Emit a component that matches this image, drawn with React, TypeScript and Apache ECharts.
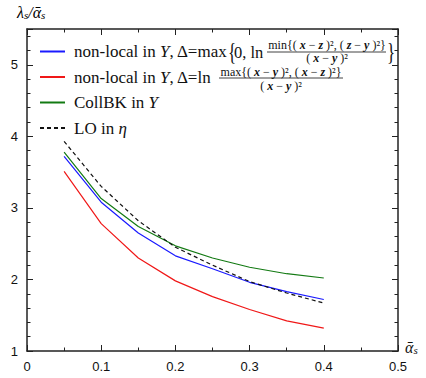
import React, { useEffect, useRef } from "react";
import * as echarts from "echarts";

const alphaValues = [0.05, 0.1, 0.15, 0.2, 0.25, 0.3, 0.35, 0.4];
const nonLocalMax = [3.72, 3.08, 2.65, 2.33, 2.15, 1.96, 1.83, 1.72];
const nonLocalLn = [3.51, 2.78, 2.3, 1.98, 1.76, 1.58, 1.42, 1.32];
const collBK = [3.78, 3.13, 2.74, 2.47, 2.3, 2.17, 2.08, 2.02];
const loEta = [3.93, 3.3, 2.82, 2.45, 2.2, 1.97, 1.81, 1.67];

const seriesNames = [
  "non-local in Y, Δ=max{0, ln min{(x−z)²,(z−y)²}/(x−y)²}",
  "non-local in Y, Δ=ln max{(x−y)²,(x−z)²}/(x−y)²",
  "CollBK in Y",
  "LO in η",
];
const legendLabels = [
  "{t|non-local in }{i|Y}{t|, Δ=max}",
  "{t|non-local in }{i|Y}{t|, Δ=ln}",
  "{t|CollBK in }{i|Y}",
  "{t|LO in }{i|η}",
];

const SERIF = "Liberation Serif";
const SANS = "Liberation Sans";

const pair = (xs: number[], ys: number[]) => xs.map((x, i) => [x, ys[i]]);

export default function App() {
  const ref = useRef<HTMLDivElement>(null);
  useEffect(() => {
    if (!ref.current) return;
    const chart = echarts.init(ref.current, undefined, { renderer: "svg" });

    const axisCommon = {
      type: "value",
      splitLine: { show: false },
      axisLine: { show: true, onZero: false, lineStyle: { color: "#222", width: 1.5 } },
      axisTick: { show: true, inside: true, length: 6, lineStyle: { color: "#222", width: 1 } },
      minorTick: { show: true, length: 3.5, lineStyle: { color: "#222", width: 1 } },
    };
    const fracRich = {
      b: { fontFamily: SERIF, fontSize: 12, fontStyle: "italic", fontWeight: "bold", color: "#111", lineHeight: 10 },
    };
    const fracText = (x: number, y: number, text: string) => ({
      type: "text",
      x,
      y,
      style: {
        text,
        x: 0,
        y: 0,
        align: "center",
        verticalAlign: "middle",
        fontFamily: SERIF,
        fontSize: 12,
        lineHeight: 10,
        fill: "#111",
        rich: fracRich,
      },
    });
    const plain = (x: number, y: number, text: string, size = 17, scaleY = 1) => ({
      type: "text",
      x,
      y,
      scaleY,
      style: {
        text,
        x: 0,
        y: 0,
        align: "left",
        verticalAlign: "middle",
        fontFamily: SERIF,
        fontSize: size,
        fill: "#111",
      },
    });
    const bar = (x1: number, x2: number, y: number) => ({
      type: "line",
      shape: { x1, y1: y, x2, y2: y },
      style: { stroke: "#111", lineWidth: 0.8 },
    });
    const mk = (name: string, ys: number[], color: string, type: any = "solid") => ({
      name,
      type: "line",
      data: pair(alphaValues, ys),
      showSymbol: false,
      symbol: "none",
      color,
      lineStyle: { color, width: 1.2, type },
      itemStyle: { color },
    });
    const subRich = {
      a: { fontFamily: SERIF, fontSize: 16, fontStyle: "italic", color: "#111" },
      s: { fontFamily: SERIF, fontSize: 11, fontStyle: "italic", color: "#111", padding: [6, 0, 0, 0] },
    };
    chart.setOption({
      animation: false,
      grid: { left: 27, right: 28, top: 29, bottom: 27 },
      xAxis: [
        {
          ...axisCommon,
          min: 0,
          max: 0.5,
          interval: 0.1,
          position: "bottom",
          minorTick: { ...axisCommon.minorTick, splitNumber: 2 },
          axisLabel: {
            show: true,
            margin: 9,
            fontFamily: SANS,
            fontSize: 13,
            color: "#111",
            formatter: (v: number) => String(Math.round(v * 10) / 10),
          },
          name: "{a|ᾱ}{s|s}",
          nameLocation: "end",
          nameGap: 7,
          nameTextStyle: { padding: [0, 0, 8, 0], rich: subRich },
        },
        {
          ...axisCommon,
          min: 0,
          max: 0.5,
          interval: 0.1,
          position: "top",
          minorTick: { ...axisCommon.minorTick, splitNumber: 2 },
          axisLabel: { show: false },
        },
      ],
      yAxis: [
        {
          ...axisCommon,
          min: 1,
          max: 5.5,
          interval: 1,
          position: "left",
          minorTick: { ...axisCommon.minorTick, splitNumber: 5 },
          axisLabel: {
            show: true,
            margin: 9,
            fontFamily: SANS,
            fontSize: 13,
            color: "#111",
            showMaxLabel: false,
          },
        },
        {
          ...axisCommon,
          min: 1,
          max: 5.5,
          interval: 1,
          position: "right",
          minorTick: { ...axisCommon.minorTick, splitNumber: 5 },
          axisLabel: { show: false },
        },
      ],
      legend: {
        show: true,
        orient: "vertical",
        left: 39,
        top: 43,
        padding: 0,
        itemGap: 8.5,
        itemWidth: 25,
        itemHeight: 10,
        selectedMode: false,
        data: seriesNames,
        itemStyle: { opacity: 0 },
        formatter: (name: string) => legendLabels[seriesNames.indexOf(name)],
        textStyle: {
          fontFamily: SERIF,
          fontSize: 17,
          lineHeight: 17,
          color: "#111",
          padding: [0, 0, 0, 4],
          rich: {
            t: { fontFamily: SERIF, fontSize: 17, color: "#111", lineHeight: 17 },
            i: { fontFamily: SERIF, fontSize: 17, fontStyle: "italic", color: "#111", lineHeight: 17 },
          },
        },
      },
      graphic: [
        {
          type: "text",
          left: 17,
          top: 4,
          style: {
            text: "{a|λ}{s|s}{a|/}{a|ᾱ}{s|s}",
            rich: subRich,
          },
        },
        plain(228, 52, "{", 17, 1.45),
        plain(234, 52, "0, ln", 16.5),
        fracText(327, 44.5, "min{( {b|x} − {b|z} )², ( {b|z} − {b|y} )²}"),
        bar(267, 386, 52),
        fracText(327, 58, "( {b|x} − {b|y} )²"),
        plain(387, 52, "}", 17, 1.45),
        fracText(281, 72, "max{( {b|x} − {b|y} )², ( {b|x} − {b|z} )²}"),
        bar(219, 343, 78),
        fracText(281, 85.5, "( {b|x} − {b|y} )²"),
      ],
      series: [
        mk(seriesNames[0], nonLocalMax, "#1a1aff"),
        mk(seriesNames[1], nonLocalLn, "#f01818"),
        mk(seriesNames[2], collBK, "#137a13"),
        mk(seriesNames[3], loEta, "#111", [4, 3]),
      ],
    });
    return () => chart.dispose();
  }, []);
  return (
    <div
      ref={ref}
      style={{ position: "absolute", left: 0, top: 0, width: 426, height: 378 }}
    />
  );
}
